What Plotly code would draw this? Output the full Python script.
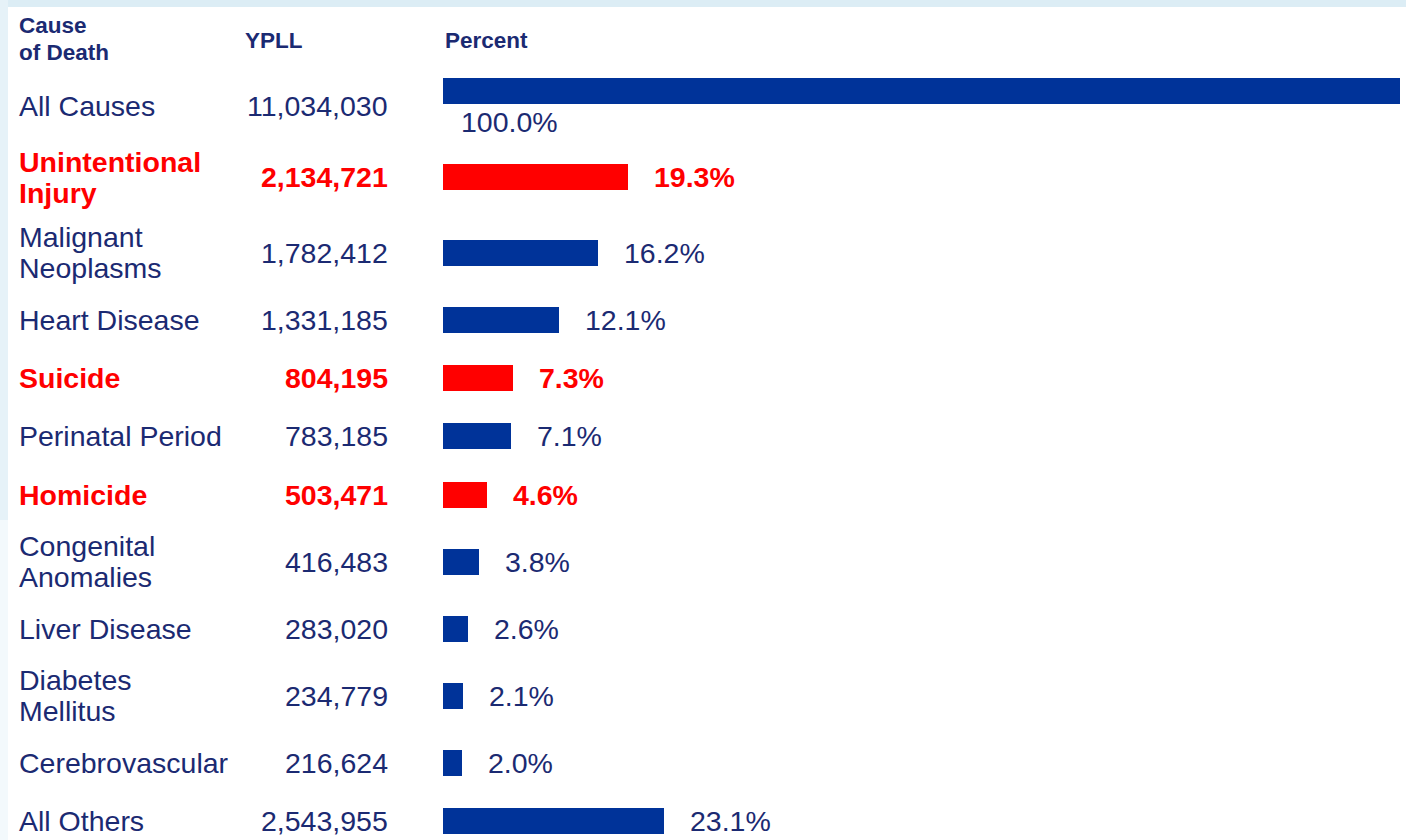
import plotly.graph_objects as go

# data
causes = ["All Causes", "Unintentional<br>Injury", "Malignant<br>Neoplasms", "Heart Disease",
          "Suicide", "Perinatal Period", "Homicide", "Congenital<br>Anomalies",
          "Liver Disease", "Diabetes<br>Mellitus", "Cerebrovascular", "All Others"]
ypll = [11034030, 2134721, 1782412, 1331185, 804195, 783185, 503471, 416483,
        283020, 234779, 216624, 2543955]
percent = [100.0, 19.3, 16.2, 12.1, 7.3, 7.1, 4.6, 3.8, 2.6, 2.1, 2.0, 23.1]
violent = ["Unintentional<br>Injury", "Suicide", "Homicide"]

W, H = 1406, 840
BLUE = "#003399"
RED = "#ff0000"
NAVY = "#1b2a72"
FONT = "Liberation Sans, Arial, sans-serif"

# row layout like an html table: two-line labels make a row taller
lines = [c.count("<br>") + 1 for c in causes]
row_y = [91.0]
for i in range(1, len(causes)):
    gap = 58.3 + 8.7 * ((lines[i - 1] - 1) + (lines[i] - 1))
    if i == 1:
        gap += 19.0  # first row carries its percent label under the bar
    row_y.append(row_y[-1] + gap)

colors = [RED if c in violent else BLUE for c in causes]

fig = go.Figure()
fig.add_trace(go.Bar(
    x=percent, y=row_y, orientation="h", width=26,
    marker=dict(color=colors, line=dict(width=0)),
    hovertext=[c.replace("<br>", " ") for c in causes],
    hovertemplate="%{hovertext}: %{x:.1f}%<extra></extra>",
))

ann = []


def px(x):
    return x / W


# headers
hfont = dict(family=FONT, size=22.5, color=NAVY)
ann.append(dict(x=px(17), y=25, text="<b>Cause</b>", xanchor="left"))
ann.append(dict(x=px(17), y=52, text="<b>of Death</b>", xanchor="left"))
ann.append(dict(x=px(243), y=40, text="<b>YPLL</b>", xanchor="left"))
ann.append(dict(x=px(443), y=40, text="<b>Percent</b>", xanchor="left"))
for a in ann:
    a.update(xref="paper", yref="y", yanchor="middle", showarrow=False, font=hfont)

for i, (c, v, p) in enumerate(zip(causes, ypll, percent)):
    bold = c in violent
    col = RED if bold else NAVY
    f = dict(family=FONT, size=28.5, color=col)
    wrap = (lambda s: f"<b>{s}</b>") if bold else (lambda s: s)
    ty = row_y[i] + (15 if i == 0 else 0)
    parts = c.split("<br>")
    for k, part in enumerate(parts):
        off = (k - (len(parts) - 1) / 2) * 31
        ann.append(dict(x=px(17), y=ty + off, xref="paper", yref="y", text=wrap(part),
                        xanchor="left", yanchor="middle", showarrow=False, font=f))
    ann.append(dict(x=px(390), y=ty, xref="paper", yref="y", text=wrap(f"{v:,}"),
                    xanchor="right", yanchor="middle", showarrow=False, font=f))
    if i == 0:
        ann.append(dict(x=0, y=row_y[i] + 31, xref="x", yref="y", text=f"{p:.1f}%",
                        xanchor="left", xshift=16, yanchor="middle", showarrow=False, font=f))
    else:
        ann.append(dict(x=p, y=row_y[i], xref="x", yref="y", text=wrap(f"{p:.1f}%"),
                        xanchor="left", xshift=24, yanchor="middle", showarrow=False, font=f))

shapes = [
    dict(type="rect", xref="paper", yref="paper", x0=0, x1=1, y0=1 - 7 / H, y1=1,
         fillcolor="#dcedf5", line=dict(width=0), layer="below"),
    dict(type="rect", xref="paper", yref="paper", x0=0, x1=8 / W, y0=1 - 520 / H, y1=1,
         fillcolor="#e6f2f8", line=dict(width=0), layer="below"),
    dict(type="rect", xref="paper", yref="paper", x0=0, x1=8 / W, y0=0, y1=1 - 520 / H,
         fillcolor="#f3f9fc", line=dict(width=0), layer="below"),
]

fig.update_layout(
    width=W, height=H,
    margin=dict(l=0, r=0, t=0, b=0),
    paper_bgcolor="white", plot_bgcolor="rgba(0,0,0,0)",
    showlegend=False,
    xaxis=dict(domain=[443 / W, 1400 / W], range=[0, 100], visible=False, fixedrange=True),
    yaxis=dict(range=[H, 0], visible=False, fixedrange=True),
    annotations=ann, shapes=shapes,
    bargap=0,
)

fig.write_html("out.html", config={"displayModeBar": False},
               post_script="document.body.style.margin='0';")
